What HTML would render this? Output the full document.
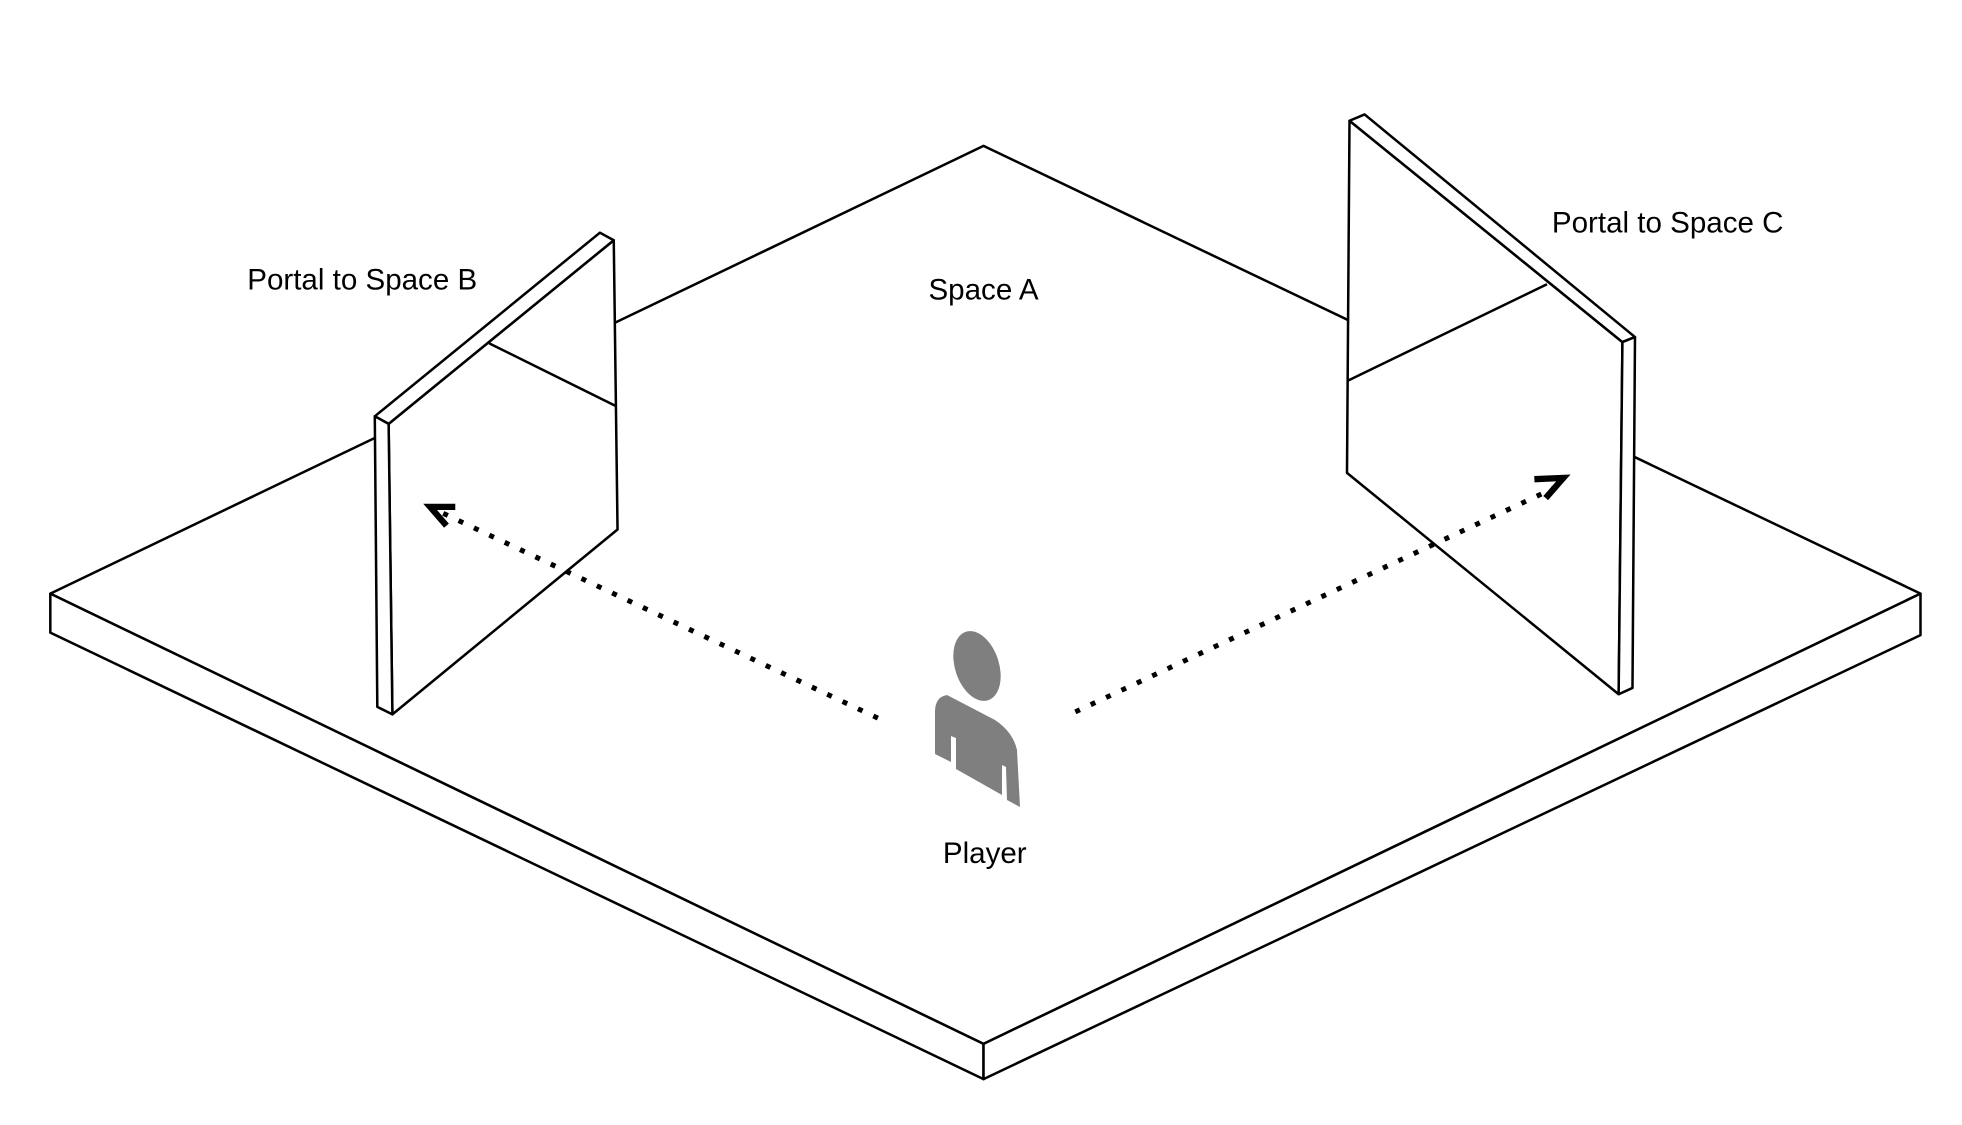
<!DOCTYPE html>
<html><head><meta charset="utf-8"><style>html,body{margin:0;padding:0;background:#fff}svg{display:block}</style></head>
<body>
<svg width="1962" height="1125" viewBox="0 0 1560 894.5" xmlns="http://www.w3.org/2000/svg">
<g fill="none" stroke="#000" stroke-width="2" stroke-linejoin="round">
<polygon points="40,472 782,116 1527,472 782,830" fill="#fff"/>
<polygon points="40,472 782,830 782,858 40,503" fill="#fff"/>
<polygon points="782,830 1527,472 1527,505 782,858" fill="#fff"/>
<polygon points="309,337 488,191 491,421 312,568" fill="#fff"/>
<polygon points="298,331 477,185 488,191 309,337" fill="#fff"/>
<polygon points="298,331 309,337 312,568 300,562" fill="#fff"/>
<line x1="389" y1="273" x2="490" y2="323"/>
<polygon points="1073,96 1290,272 1287,552 1071,376" fill="#fff"/>
<polygon points="1073,96 1085,91 1300,268 1290,272" fill="#fff"/>
<polygon points="1290,272 1300,268 1298,547 1287,552" fill="#fff"/>
<line x1="1071" y1="303" x2="1230" y2="226"/>
</g>
<g fill="none" stroke="#000">
<line x1="698" y1="571" x2="352" y2="408" stroke-width="4" stroke-dasharray="4 9.5"/>
<line x1="855" y1="566" x2="1238" y2="387" stroke-width="4" stroke-dasharray="4 9.5"/>
<polyline points="362,403 342,403 355,418" stroke-width="5"/>
<polyline points="1220,381 1243,380 1229,396" stroke-width="5"/>
</g>
<g transform="scale(0.7951)" fill="#7f7f7f">
<ellipse cx="977" cy="666" rx="22" ry="36" transform="rotate(-18 977 666)"/>
<path d="M935,712 Q935,697 947,695 L995,720 Q1013,732 1017,750 L1020,807 L1007,800 L1006,767 L1002,765 L1002,795 L956,769 L956,738 L951,736 L951,762 L935,754 Z"/>
</g>
<g font-family="Liberation Sans, Arial, sans-serif" font-size="23.5" fill="#000" text-anchor="middle">
<text x="288" y="230">Portal to Space B</text>
<text x="782" y="238">Space A</text>
<text x="1326" y="185">Portal to Space C</text>
<text x="783" y="686">Player</text>
</g>
</svg>
</body></html>
